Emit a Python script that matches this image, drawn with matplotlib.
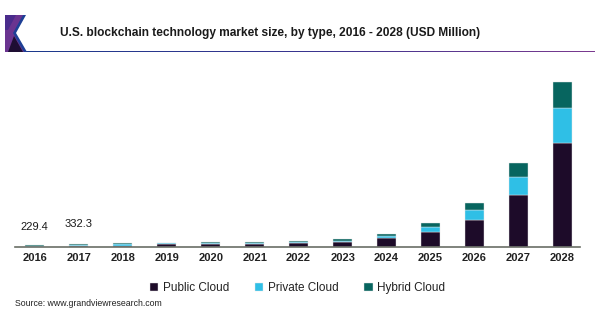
import numpy as np
import matplotlib.pyplot as plt
from matplotlib.patches import Polygon
from matplotlib.colors import LinearSegmentedColormap

plt.rcParams['font.family'] = ['Liberation Sans', 'DejaVu Sans']

years = ['2016', '2017', '2018', '2019', '2020', '2021', '2022',
         '2023', '2024', '2025', '2026', '2027', '2028']
public_cloud = [40, 60, 100, 330, 300, 300, 430, 575, 1000, 1690, 3105, 6015, 11960]
private_cloud = [90, 130, 250, 80, 120, 140, 120, 150, 300, 645, 1115, 2000, 4025]
hybrid_cloud = [99.4, 142.3, 80, 70, 140, 160, 150, 195, 230, 390, 805, 1610, 2990]
labelled = {0: '229.4', 1: '332.3'}

series = [('Public Cloud', public_cloud, '#1d0b29'),
          ('Private Cloud', private_cloud, '#2fbfe6'),
          ('Hybrid Cloud', hybrid_cloud, '#07655f')]

fig = plt.figure(figsize=(6, 3.25), dpi=100)
ax = fig.add_axes([15 / 600, 78 / 325, 565 / 600, 174 / 325])

x = np.arange(len(years))
bottom = np.zeros(len(years))
for name, vals, color in series:
    vals = np.array(vals, dtype=float)
    ax.bar(x, vals, bottom=bottom, width=0.43, color=color, label=name,
           edgecolor='#e6e6e6', linewidth=0.3)
    bottom += vals

for i, txt in labelled.items():
    ax.annotate(txt, (x[i], bottom[i]), xytext=(0, 13 + 1.5 * i), textcoords='offset points',
                ha='center', va='center', fontsize=8, color='#1a1a1a')

ax.set_xlim(-0.45, 12.4)
ax.set_ylim(0, 20000)
ax.set_xticks(x)
ax.set_xticklabels(years, fontsize=8, fontweight='bold', color='#222222')
ax.tick_params(axis='x', length=0, pad=4)
ax.set_yticks([])
for side in ['top', 'right', 'left']:
    ax.spines[side].set_visible(False)
ax.spines['bottom'].set_color('#6a6e66')
ax.spines['bottom'].set_linewidth(1.2)

ax.legend(loc='upper center', bbox_to_anchor=(0.5, -0.14), ncol=3, frameon=False,
          fontsize=8.5, handlelength=0.7, handleheight=0.7, handletextpad=0.4,
          columnspacing=2.2, labelcolor='#222222')

# header: emblem, title and gradient rule
fig.text(270 / 600, 1 - 33 / 325, 'U.S. blockchain technology market size, by type, 2016 - 2028 (USD Million)',
         ha='center', va='center', fontsize=8.6, fontweight='bold', color='#1a1a1a')

rule = fig.add_axes([25 / 600, 1 - 52.5 / 325, 570 / 600, 2 / 325])
grad = np.linspace(0, 1, 256)[None, :]
cmap = LinearSegmentedColormap.from_list('rule', ['#1c3a8c', '#3a3590', '#7b3a8f'])
rule.imshow(grad, aspect='auto', cmap=cmap)
rule.axis('off')


def fx(px):
    return px / 600


def fy(py):
    return 1 - py / 325


emblem = [
    ([(5, 15), (25, 15), (14, 33), (25, 52), (5, 52)], '#6a3490'),
    ([(5, 15), (16, 15), (8, 30), (5, 30)], '#4a2c8c'),
    ([(8, 52), (14, 36), (23, 52)], '#1e0e33'),
    ([(23, 15), (26, 15), (16, 33), (27, 52), (24, 52), (13, 33)], '#1d3f95'),
]
for pts, color in emblem:
    fig.patches.append(Polygon([(fx(a), fy(b)) for a, b in pts], closed=True,
                               transform=fig.transFigure, facecolor=color,
                               edgecolor='none'))

fig.text(15 / 600, 1 - 304 / 325, 'Source: www.grandviewresearch.com',
         ha='left', va='center', fontsize=6.3, color='#222222')

fig.savefig('out.png', dpi=100)
plt.close(fig)
